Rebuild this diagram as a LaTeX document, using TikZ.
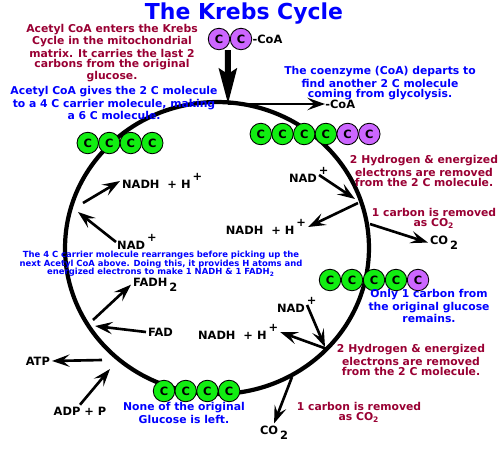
\documentclass[tikz,border=0pt]{standalone}
\usepackage{fontspec}
\setmainfont{DejaVu Sans}
\usetikzlibrary{arrows.meta,calc}
\definecolor{krebsblue}{RGB}{0,0,255}
\definecolor{krebsred}{RGB}{153,0,51}
\definecolor{cgreen}{RGB}{17,238,17}
\definecolor{cpurple}{RGB}{204,102,255}
\newcommand\ionplus{\raisebox{1.2ex}{+}}
\newcommand\ionplusr{\rlap{\,\raisebox{1.2ex}{+}}}
\newcommand\subtwo{\,\raisebox{-0.9ex}{2}}
\begin{document}
\begin{tikzpicture}[x=0.02cm,y=-0.02cm,
  ring/.style={line width=2.4pt},
  arr/.style={-{Stealth[length=10pt,width=7pt,inset=4pt]},line width=1.5pt},
  bigarr/.style={-{Stealth[length=20pt,width=10pt,inset=3pt]},line width=3.4pt},
  redtxt/.style={text=krebsred,align=center,inner sep=0,font=\fontsize{6.15}{5.7}\selectfont\bfseries},
  bluetxt/.style={text=krebsblue,align=center,inner sep=0,font=\fontsize{6.15}{5.7}\selectfont\bfseries},
  chem/.style={inner sep=1pt,font=\fontsize{6.5}{7}\selectfont\bfseries},
  carbon/.style={circle,draw,line width=0.5pt,minimum size=0.43cm,inner sep=0,font=\fontsize{6.5}{7}\selectfont\bfseries}]
\useasboundingbox (0,0) rectangle (500,450);

\node[text=krebsblue,font=\fontsize{12.5}{13}\selectfont\bfseries] (title) at (244,14) {The Krebs Cycle};

\draw[ring] (217,248) ellipse [x radius=3.04cm, y radius=2.92cm];

\node[carbon,fill=cpurple] (p1) at (219,39) {C};
\node[carbon,fill=cpurple] (p2) at (241,39) {C};
\node[chem,anchor=west,inner sep=0] (coain) at (p2.east) {-CoA};
\foreach \i in {1,...,4}
  \node[carbon,fill=cgreen] (tl\i) at ({66.25+21.5*\i},143) {C};
\foreach \i/\c in {1/cgreen,2/cgreen,3/cgreen,4/cgreen,5/cpurple,6/cpurple}
  \node[carbon,fill=\c] (tr\i) at ({239.1+21.7*\i},134) {C};
\foreach \i/\c in {1/cgreen,2/cgreen,3/cgreen,4/cgreen,5/cpurple}
  \node[carbon,fill=\c] (mr\i) at ({308+22*\i},280) {C};
\foreach \i in {1,...,4}
  \node[carbon,fill=cgreen] (bt\i) at ({142.3+21.7*\i},391) {C};

\node[redtxt] (enter) at (112,53) {Acetyl CoA enters the Krebs\\Cycle in the mitochondrial\\matrix. It carries the last 2\\carbons from the original\\glucose.};
\node[bluetxt] (depart) at (380,83) {The coenzyme (CoA) departs to\\find another 2 C molecule\\coming from glycolysis.};
\node[bluetxt] (gives) at (114,103) {Acetyl CoA gives the 2 C molecule\\to a 4 C carrier molecule, making\\a 6 C molecule.};
\node[redtxt] (hyd1) at (424,171) {2 Hydrogen \& energized\\electrons are removed\\from the 2 C molecule.};
\node[redtxt] (carb1) at (434,218) {1 carbon is removed\\as CO\textsubscript{2}};
\node[bluetxt] (only) at (429,306) {Only 1 carbon from\\the original glucose\\remains.};
\node[redtxt] (hyd2) at (411,360) {2 Hydrogen \& energized\\electrons are removed\\from the 2 C molecule.};
\node[redtxt] (carb2) at (359,412) {1 carbon is removed\\as CO\textsubscript{2}};
\node[bluetxt] (none) at (184,413) {None of the original\\Glucose is left.};
\node[bluetxt,font=\fontsize{4.8}{4.8}\selectfont\bfseries] (rearr) at (161,264) {The 4 C carrier molecule rearranges before picking up the\\next Acetyl CoA above. Doing this, it provides H atoms and\\energized electrons to make 1 NADH \& 1 FADH\textsubscript{2}};

\node[chem,anchor=west] (nadh1) at (120,181) {NADH~~+~H\,\ionplus};
\node[chem,anchor=west,inner sep=0.5pt] (nad1) at (116,242) {NAD\,\ionplus};
\node[chem,anchor=base west] (fadh) at (131,286) {FADH\subtwo};
\node[chem,anchor=west] (fad) at (146,332) {FAD};
\node[chem,anchor=west] (nadh3) at (196,332) {NADH~~+~H\,\ionplus};
\node[chem,anchor=east] (atp) at (52,361) {ATP};
\node[chem] (adp) at (80,411) {ADP + P};
\node[chem] (nad3) at (291,305) {NAD\ionplusr};
\node[chem] (nad2) at (303,175) {NAD\ionplusr};
\node[chem,anchor=east] (nadh2) at (308,227) {NADH~~+~H\,\ionplus};
\node[chem,anchor=base west] (co2a) at (428,244) {CO\subtwo};
\node[chem,anchor=base west] (co2b) at (258,434) {CO\subtwo};
\node[chem,anchor=west,inner sep=0] (coaout) at (325,104) {-CoA};

\coordinate (join) at (228,104);
\coordinate (r1) at (83,203);
\coordinate (r2) at (78,212);
\coordinate (r3) at (93,320);
\coordinate (r4) at (95,326);
\coordinate (r5) at (102,360);
\coordinate (r6) at (110,369);
\coordinate (r7) at (355,199);
\coordinate (r8) at (358,203);
\coordinate (r9) at (370,224);
\coordinate (r10) at (325,347);
\coordinate (r11) at (327,349);
\coordinate (r12) at (292,377);

\draw[bigarr] ($(p1.south)!0.4!(p2.south)$) -- (join);
\draw[arr] (join) -- (coaout.west);
\draw[arr] (r1) -- (nadh1.west);
\draw[arr] (nad1.west) -- (r2);
\draw[arr] (r3) -- (fadh.west);
\draw[arr] (fad.west) -- (r4);
\draw[arr] (r5) -- (atp.east);
\draw[arr] (adp.north) -- (r6);
\draw[arr] (nad2.east) -- (r7);
\draw[arr] (r8) -- (nadh2.east);
\draw[arr] (r9) -- (co2a.west);
\draw[arr] (nad3.east) -- (r10);
\draw[arr] (r11) -- (nadh3.east);
\draw[arr] (r12) -- (co2b.north);
\end{tikzpicture}
\end{document}
